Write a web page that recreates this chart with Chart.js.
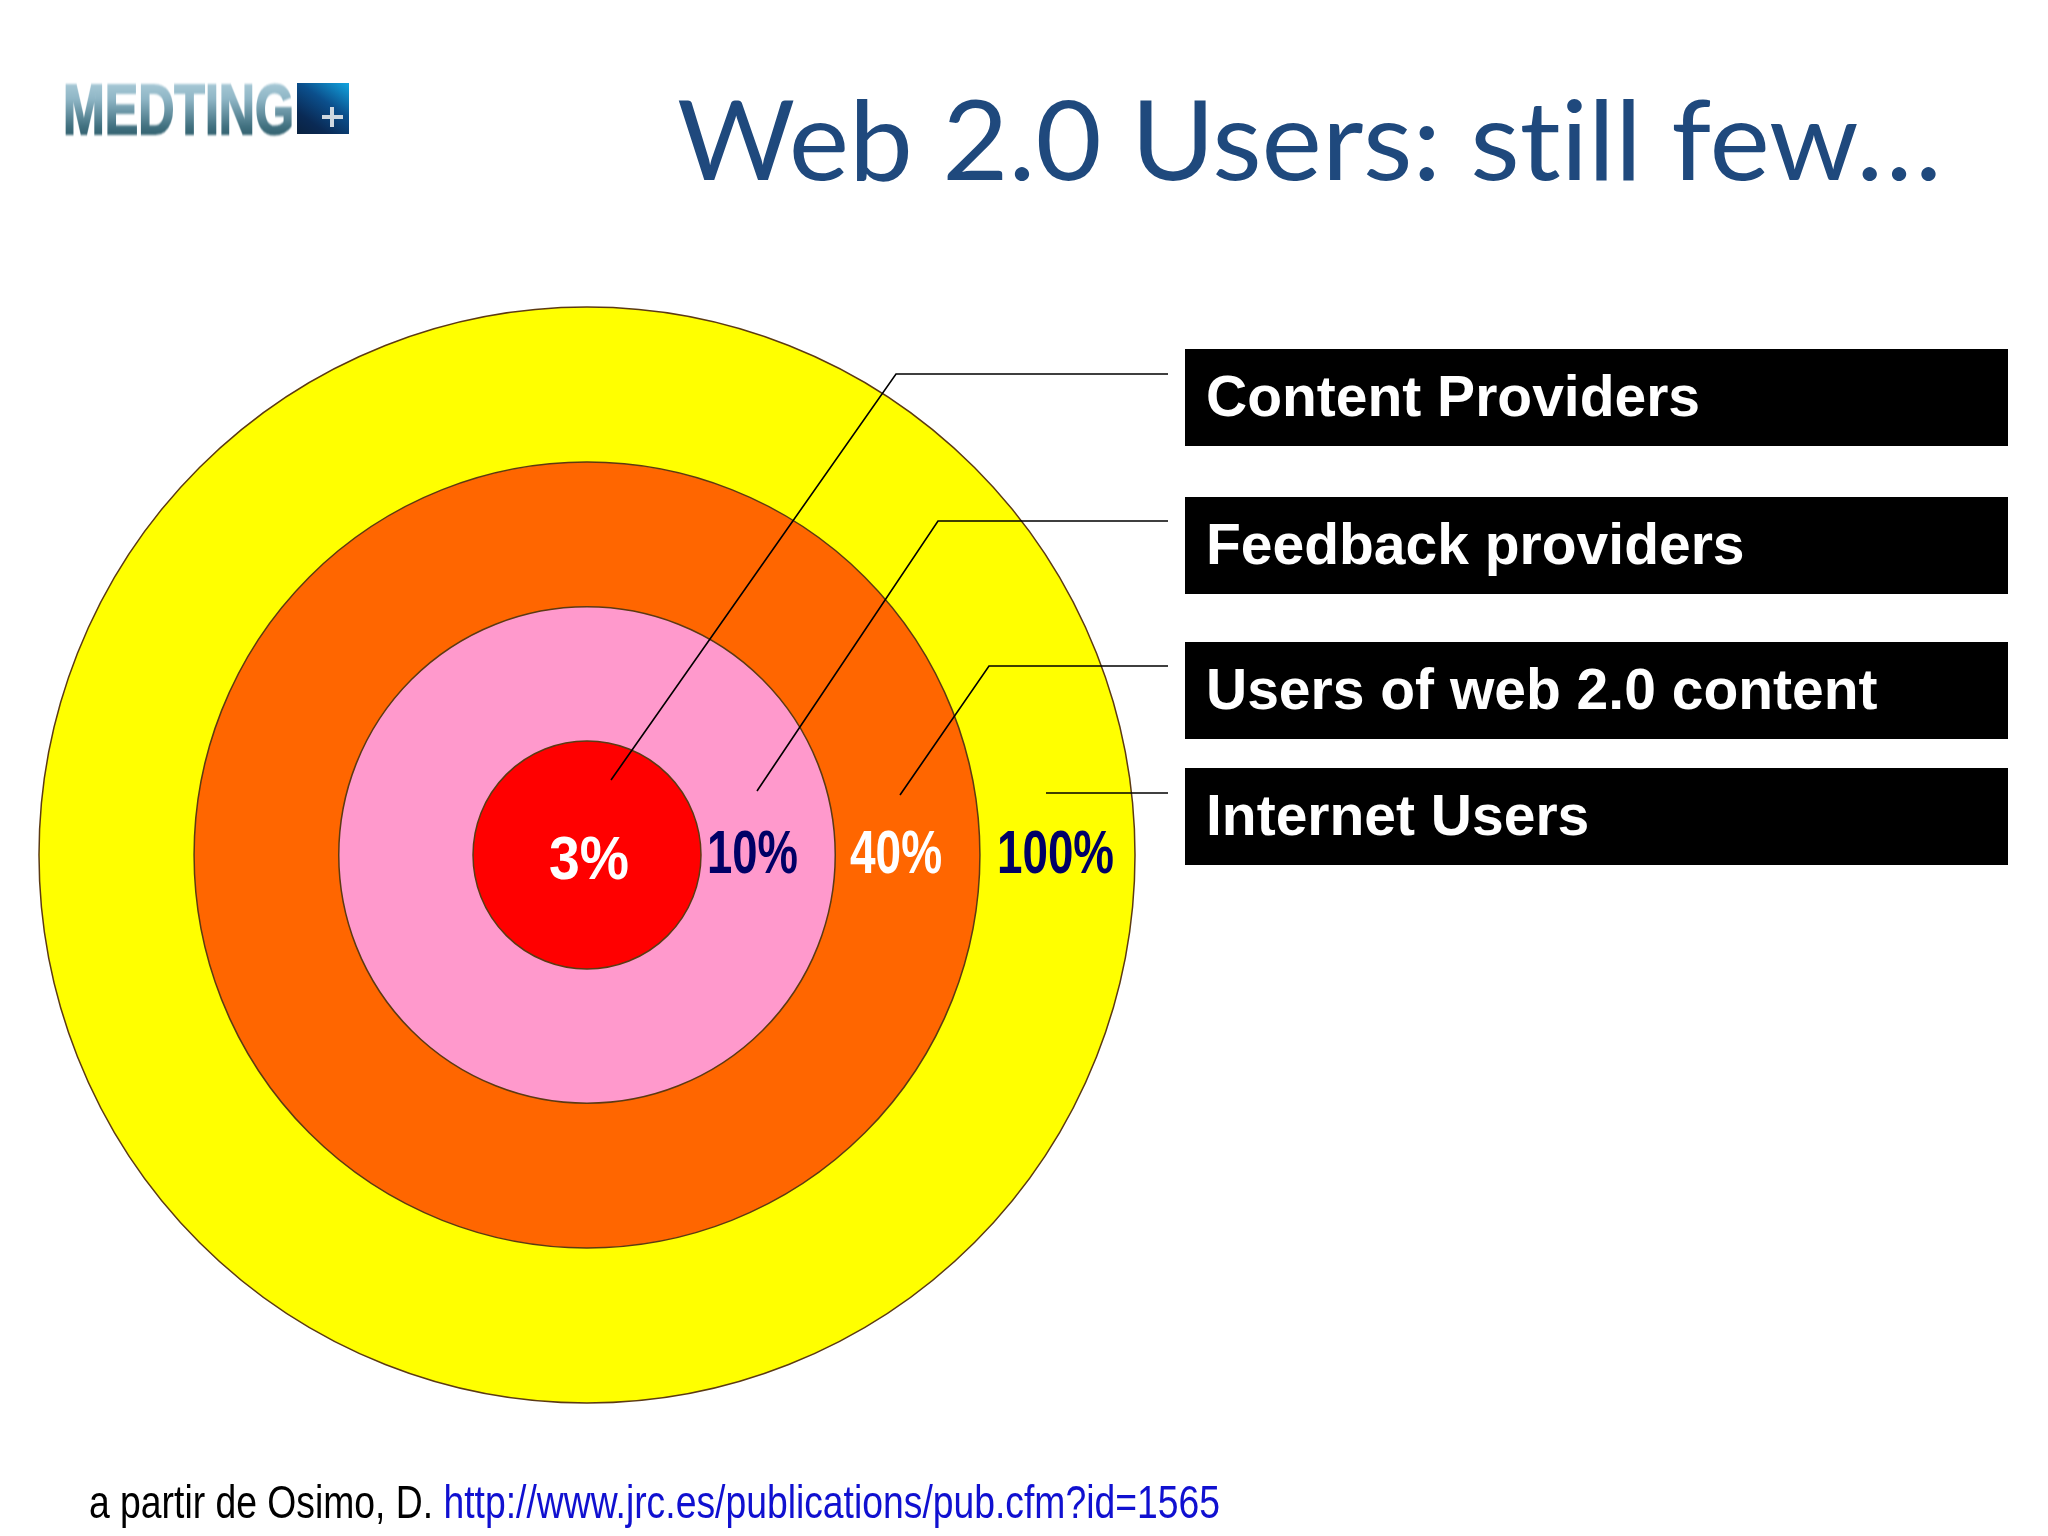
<!DOCTYPE html>
<html>
<head>
<meta charset="utf-8">
<title>Web 2.0 Users: still few...</title>
<script src="https://cdn.jsdelivr.net/npm/chart.js@4/dist/chart.umd.min.js"></script>
<style>
  html, body { margin: 0; padding: 0; background: #fff; }
  #page { position: relative; width: 2048px; height: 1536px; overflow: hidden; font-family: "Liberation Sans", Arial, sans-serif; }
  #rings { position: absolute; left: 0; top: 0; }
  .txt { position: absolute; white-space: nowrap; line-height: 1; transform-origin: left top; }
  #heading { left: 677px; top: 82px; font: 110px/1 Lato, sans-serif; color: #1f497d; font-variant-ligatures: none; }
  #footer { left: 89px; top: 1478px; font-size: 47px; color: #000; }
  #footer span { color: #1010d0; }
  .box { position: absolute; left: 1185px; width: 823px; height: 97px; background: #000; }
  .box .txt { left: 21px; top: 19px; font-weight: bold; font-size: 57px; color: #fff; }
  .share { font-weight: bold; font-size: 61px; }
  #logoText { left: 63px; top: 74px; font-weight: bold; font-size: 71px; color: transparent; filter: blur(0.9px);
    -webkit-text-stroke: 2px transparent;
    background: linear-gradient(180deg, #b5d3df 0%, #8fb6c6 35%, #3f6f7e 75%, #25525f 100%);
    -webkit-background-clip: text; background-clip: text; }
  #logoBox { position: absolute; left: 297px; top: 83px; width: 52px; height: 51px; filter: blur(0.6px);
    background: linear-gradient(215deg, #12a5e0 0%, #0b4f8c 40%, #0a2a55 75%, #0a2240 100%); }
  #logoBox::before { content: ""; position: absolute; left: 25px; top: 32px; width: 21px; height: 4px; background: #cfd8e0; }
  #logoBox::after { content: ""; position: absolute; left: 33px; top: 24px; width: 4px; height: 20px; background: #cfd8e0; }
</style>
</head>
<body>
<div id="page">
  <canvas id="rings" width="2048" height="1536"></canvas>
  <div class="txt" id="logoText" data-fit="231">MEDTING</div>
  <div id="logoBox"></div>
  <div class="txt" id="heading" data-fit="1265">Web 2.0 Users: still few…</div>
  <div class="txt" id="footer" data-fit="1131">a partir de Osimo, D. <span>http://www.jrc.es/publications/pub.cfm?id=1565</span></div>
</div>
<script>
// outermost ring first, later rings are painted on top
const categories = ['Internet Users', 'Users of web 2.0 content', 'Feedback providers', 'Content Providers']
const shareLabels = ['100%', '40%', '10%', '3%']
const ringSizes = [100, 71.7, 45.3, 20.8]
const ringColors = ['#ffff00', '#ff6600', '#ff99cc', '#ff0000']

// left, top, width on the page for each share label
const sharePlaces = [[997, 822, 117], [850, 822, 92], [707, 822, 91], [549, 828, 80]]
const shareColors = ['#000066', '#ffffff', '#000066', '#ffffff']
const boxTops = [349, 497, 642, 768]
const boxOrder = [3, 2, 1, 0]

// leader lines, box to ring
const leaders = [
  [[1168, 374], [896, 374], [611, 780]],
  [[1168, 521], [938, 521], [757, 791]],
  [[1168, 666], [989, 666], [900, 795]],
  [[1168, 793], [1046, 793]]
]

const page = document.getElementById('page')

boxOrder.forEach((catIdx, i) => {
  const box = document.createElement('div')
  box.className = 'box'
  box.style.top = boxTops[i] + 'px'
  const label = document.createElement('div')
  label.className = 'txt'
  label.textContent = categories[catIdx]
  box.appendChild(label)
  page.appendChild(box)
})

shareLabels.forEach((text, i) => {
  const el = document.createElement('div')
  el.className = 'txt share'
  el.textContent = text
  el.style.left = sharePlaces[i][0] + 'px'
  el.style.top = sharePlaces[i][1] + 'px'
  el.style.color = shareColors[i]
  el.dataset.fit = sharePlaces[i][2]
  page.appendChild(el)
})

// squeeze text to the width it has in the slide
document.querySelectorAll('[data-fit]').forEach(el => {
  const w = el.getBoundingClientRect().width
  el.style.transform = `scaleX(${el.dataset.fit / w})`
})

const leaderLines = {
  id: 'leaderLines',
  afterDraw(chart) {
    const ctx = chart.ctx
    ctx.save()
    ctx.strokeStyle = '#000'
    ctx.lineWidth = 1.6
    leaders.forEach(pts => {
      ctx.beginPath()
      pts.forEach((p, i) => i ? ctx.lineTo(p[0], p[1]) : ctx.moveTo(p[0], p[1]))
      ctx.stroke()
    })
    ctx.restore()
  }
}

new Chart(document.getElementById('rings'), {
  type: 'polarArea',
  data: {
    labels: categories,
    datasets: [{
      data: ringSizes,
      backgroundColor: ringColors,
      borderWidth: 0,
      angle: 360
    }]
  },
  options: {
    responsive: false,
    animation: false,
    layout: { padding: { left: 39, right: 912, top: 307, bottom: 132 } },
    plugins: { legend: { display: false }, tooltip: { enabled: false } },
    scales: {
      r: {
        min: 0,
        max: 100,
        afterBuildTicks: axis => { axis.ticks = [0, ...ringSizes].map(value => ({ value })) },
        ticks: { display: false },
        angleLines: { display: false },
        // ring outlines come from the scale, an arc border leaves a seam at full circle
        grid: { circular: true, color: '#5c3a12', lineWidth: 1.5, z: 1 }
      }
    }
  },
  plugins: [leaderLines]
})
</script>
</body>
</html>
